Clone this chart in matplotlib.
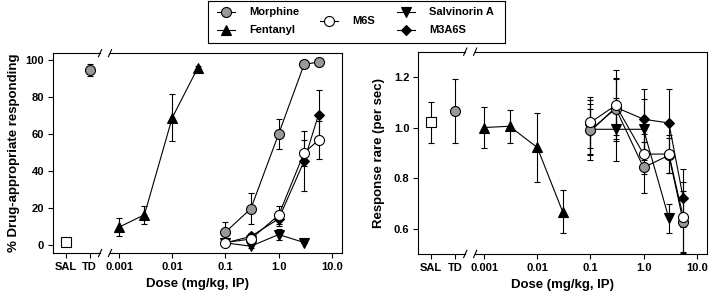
import numpy as np
import matplotlib.pyplot as plt

plt.rcParams['font.family'] = ['Liberation Sans', 'DejaVu Sans']
plt.rcParams['font.weight'] = 'bold'

# x positions for the control points (pseudo-doses on the log axis)
SAL_X = 10 ** -4.0
TD_X = 10 ** -3.55

tick_pos = [SAL_X, TD_X, 0.001, 0.01, 0.1, 1.0, 10.0]
tick_labels = ['SAL', 'TD', '0.001', '0.01', '0.1', '1.0', '10.0']

# ---- % drug-appropriate responding ----
sal_pct, sal_pct_err = 1.5, 0.0
td_pct, td_pct_err = 94.5, 3.5

morph_dose = [0.1, 0.3, 1.0, 3.0, 5.6]
morph_pct = [6.8, 19.5, 60.0, 97.5, 98.8]
morph_pct_err = [5.5, 8.3, 8.0, 1.0, 1.0]

fent_dose = [0.001, 0.003, 0.01, 0.03]
fent_pct = [9.5, 16.2, 68.7, 95.5]
fent_pct_err = [4.8, 5.0, 12.8, 1.0]

salv_dose = [0.1, 0.3, 1.0, 3.0]
salv_pct = [1.0, -0.8, 5.5, 1.2]
salv_pct_err = [0.5, 1.0, 2.8, 0.5]

m6s_dose = [0.1, 0.3, 1.0, 3.0, 5.6]
m6s_pct = [1.2, 3.1, 16.0, 49.7, 56.6]
m6s_pct_err = [0.5, 1.0, 5.0, 7.0, 10.5]

m3a6s_dose = [0.1, 0.3, 1.0, 3.0, 5.6]
m3a6s_pct = [1.0, 4.5, 14.0, 45.2, 70.3]
m3a6s_pct_err = [0.5, 2.0, 4.0, 16.2, 13.3]

# ---- response rate ----
sal_rate, sal_rate_err = 1.02, 0.082
td_rate, td_rate_err = 1.066, 0.127

morph_rate = [0.99, 1.075, 0.842, 0.89, 0.627]
morph_rate_err = [0.12, 0.12, 0.10, 0.07, 0.12]

fent_rate = [1.0, 1.005, 0.921, 0.667]
fent_rate_err = [0.08, 0.066, 0.135, 0.085]

salv_rate = [0.993, 0.993, 0.993, 0.641]
salv_rate_err = [0.10, 0.125, 0.12, 0.058]

m6s_rate = [1.02, 1.088, 0.895, 0.895, 0.645]
m6s_rate_err = [0.10, 0.14, 0.08, 0.075, 0.14]

m3a6s_rate = [0.985, 1.08, 1.033, 1.018, 0.72]
m3a6s_rate_err = [0.09, 0.11, 0.12, 0.136, 0.115]

grey = '#999999'
styles = {
    'Morphine': dict(marker='o', mfc=grey, ms=7.2),
    'Fentanyl': dict(marker='^', mfc='black', ms=7.2),
    'M6S': dict(marker='o', mfc='white', ms=7.2),
    'Salvinorin A': dict(marker='v', mfc='black', ms=7.2),
    'M3A6S': dict(marker='D', mfc='black', ms=5.3),
}

fig = plt.figure(figsize=(7.09, 2.97), dpi=100)
ax1 = fig.add_axes([0.0748, 0.148, 0.4076, 0.673])
ax2 = fig.add_axes([0.590, 0.145, 0.4068, 0.681])

ekw = dict(color='black', mec='black', lw=0.8, elinewidth=0.8, capsize=2.5,
           capthick=0.8, mew=0.8)


def series(ax, x, y, err, name):
    ax.errorbar(x, y, yerr=err, **styles[name], **ekw)


# left panel
series(ax1, salv_dose, salv_pct, salv_pct_err, 'Salvinorin A')
series(ax1, m3a6s_dose, m3a6s_pct, m3a6s_pct_err, 'M3A6S')
series(ax1, morph_dose, morph_pct, morph_pct_err, 'Morphine')
series(ax1, fent_dose, fent_pct, fent_pct_err, 'Fentanyl')
series(ax1, m6s_dose, m6s_pct, m6s_pct_err, 'M6S')
ax1.errorbar([SAL_X], [sal_pct], yerr=[sal_pct_err], marker='s', mfc='white', ms=6.5, **ekw)
series(ax1, [TD_X], [td_pct], [td_pct_err], 'Morphine')
ax1.set_ylim(-4.5, 103.6)
ax1.set_yticks([0, 20, 40, 60, 80, 100])
ax1.set_ylabel('% Drug-appropriate responding', fontsize=9.5, fontweight='bold', labelpad=4)

# right panel
series(ax2, salv_dose, salv_rate, salv_rate_err, 'Salvinorin A')
series(ax2, m3a6s_dose, m3a6s_rate, m3a6s_rate_err, 'M3A6S')
series(ax2, morph_dose, morph_rate, morph_rate_err, 'Morphine')
series(ax2, fent_dose, fent_rate, fent_rate_err, 'Fentanyl')
series(ax2, m6s_dose, m6s_rate, m6s_rate_err, 'M6S')
ax2.errorbar([SAL_X], [sal_rate], yerr=[sal_rate_err], marker='s', mfc='white', ms=6.5, **ekw)
series(ax2, [TD_X], [td_rate], [td_rate_err], 'Morphine')
ax2.set_ylim(0.5, 1.3)
ax2.set_yticks([0.6, 0.8, 1.0, 1.2])
ax2.set_ylabel('Response rare (per sec)', fontsize=9.5, fontweight='bold', labelpad=6)

b0, b1 = 10 ** -3.356, 10 ** -3.17
for ax in (ax1, ax2):
    ax.set_xscale('log')
    ax.set_xlim(10 ** -4.24, 10 ** 1.19)
    ax.set_xticks(tick_pos)
    ax.set_xticklabels(tick_labels)
    ax.minorticks_off()
    ax.tick_params(direction='out', length=3.5, width=0.8, labelsize=8, pad=3)
    ax.set_xlabel('Dose (mg/kg, IP)', fontsize=9.5, fontweight='bold', labelpad=4)
    for s in ax.spines.values():
        s.set_linewidth(0.8)
    ax.spines['top'].set_visible(False)
    ax.spines['bottom'].set_visible(False)
    tr = ax.get_xaxis_transform()
    for yy in (0, 1):
        ax.plot([10 ** -4.24, b0], [yy, yy], color='black', lw=0.8, transform=tr, clip_on=False)
        ax.plot([b1, 10 ** 1.19], [yy, yy], color='black', lw=0.8, transform=tr, clip_on=False)
        for bx in (b0, b1):
            ax.plot([bx / 10 ** 0.03, bx * 10 ** 0.03], [yy - 0.018, yy + 0.018],
                    color='black', lw=0.8, transform=tr, clip_on=False)

# legend box with M6S centred between the two rows
lax = fig.add_axes([208 / 709, 1 - 43 / 297, 297 / 709, 42 / 297])
lax.set_xlim(0, 297)
lax.set_ylim(42, 0)
lax.set_xticks([])
lax.set_yticks([])
for s in lax.spines.values():
    s.set_linewidth(0.8)
entries = [('Morphine', 9, 11), ('Fentanyl', 9, 29), ('M6S', 112, 20),
           ('Salvinorin A', 189, 11), ('M3A6S', 189, 29)]
for name, x0, y0 in entries:
    lax.plot([x0, x0 + 18], [y0, y0], color='black', lw=0.8)
    lax.plot([x0 + 9], [y0], color='black', mec='black', mew=0.8, ls='none', **styles[name])
    lax.text(x0 + 32, y0, name, fontsize=8, fontweight='bold', va='center', ha='left')

fig.savefig('out.png', dpi=100)
